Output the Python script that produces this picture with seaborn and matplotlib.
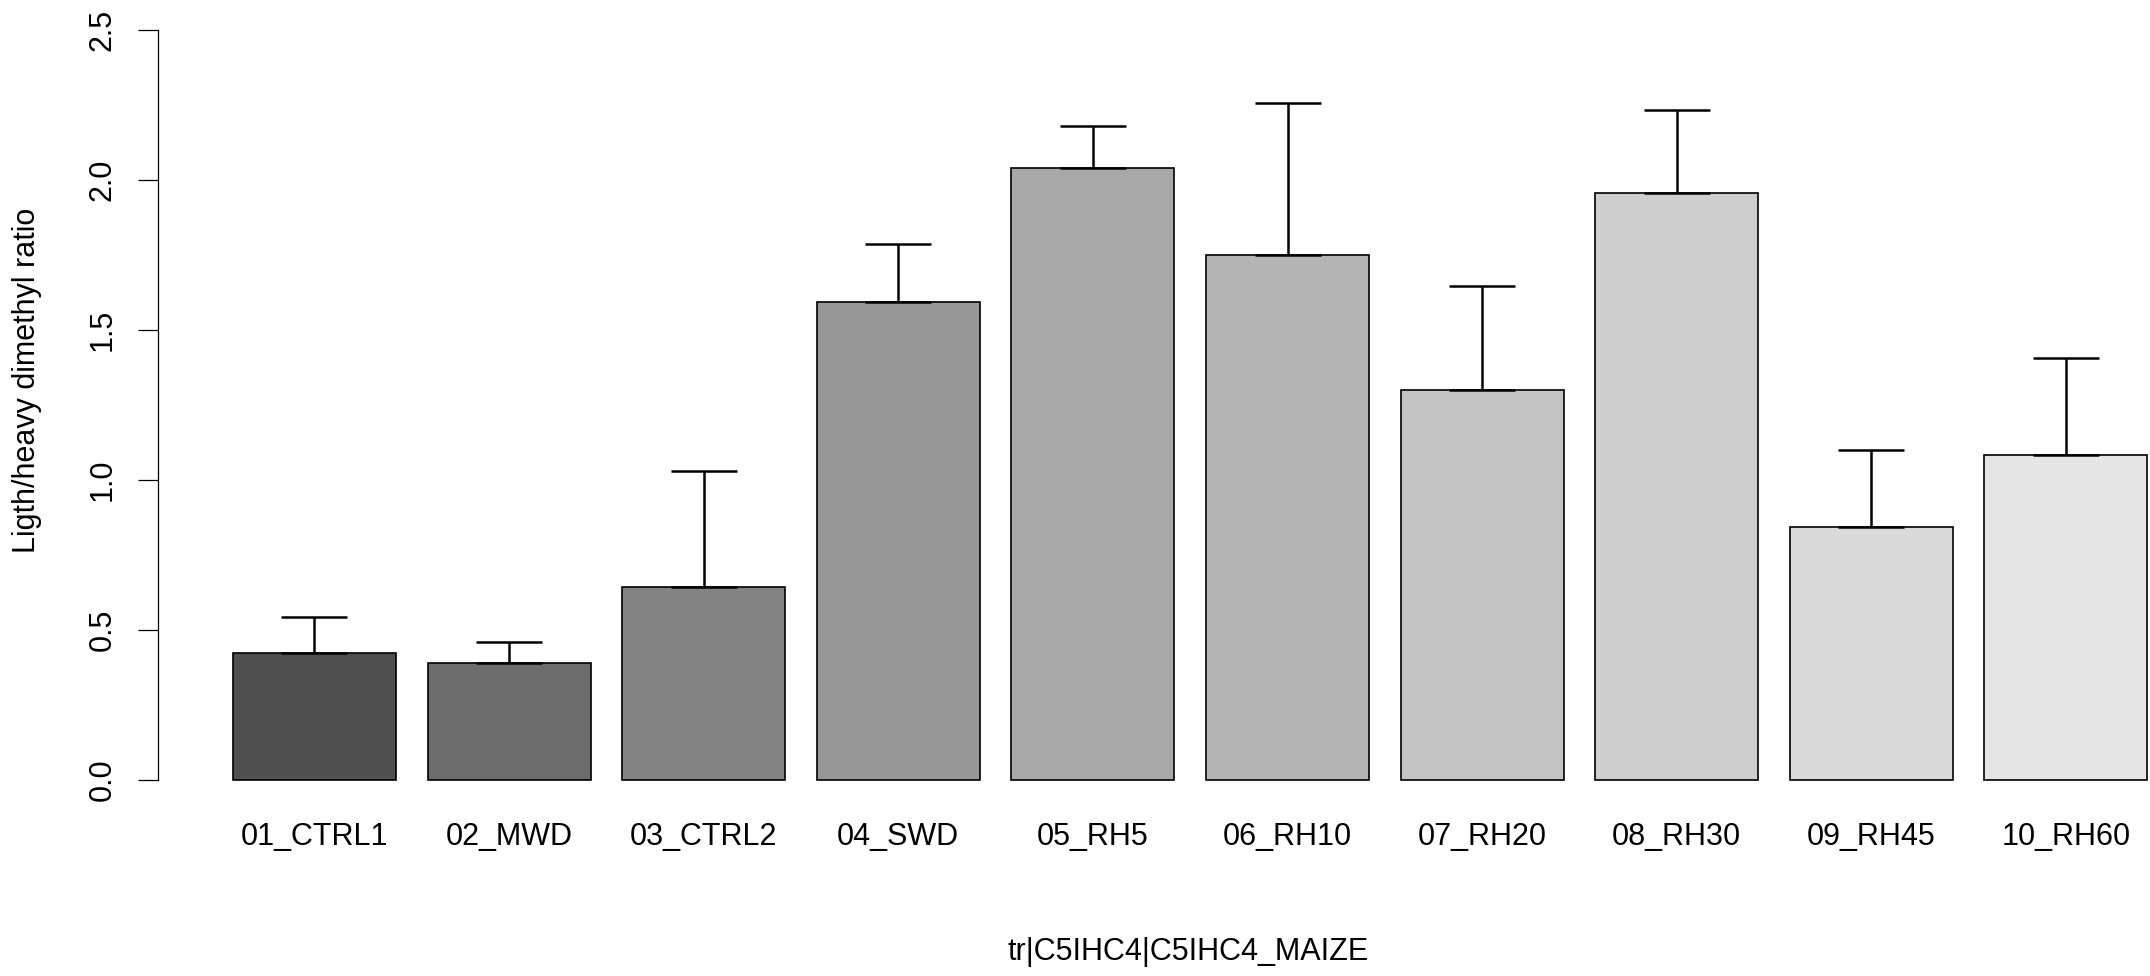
import pandas as pd
import matplotlib
matplotlib.use("Agg")
import matplotlib.pyplot as plt
import seaborn as sns

# valores (média e desvio)
amostras = ["01_CTRL1", "02_MWD", "03_CTRL2", "04_SWD", "05_RH5",
            "06_RH10", "07_RH20", "08_RH30", "09_RH45", "10_RH60"]
razao = [0.422, 0.389, 0.645, 1.595, 2.041, 1.750, 1.300, 1.956, 0.844, 1.084]
desvio = [0.122, 0.070, 0.384, 0.193, 0.140, 0.508, 0.348, 0.276, 0.255, 0.323]
cores = ["#4f4f4f", "#6c6c6c", "#838383", "#979797", "#a8a8a8",
         "#b4b4b4", "#c3c3c3", "#cecece", "#dadada", "#e5e5e5"]
yticks = [0.0, 0.5, 1.0, 1.5, 2.0, 2.5]

df = pd.DataFrame({"amostra": amostras, "razao": razao, "desvio": desvio})

sns.set_style("white", {"axes.edgecolor": "black", "text.color": "black",
                        "axes.labelcolor": "black", "xtick.color": "black",
                        "ytick.color": "black"})
plt.rcParams["font.family"] = ["Liberation Sans", "DejaVu Sans"]

W, H = 2150, 976
fig = plt.figure(figsize=(W / 100, H / 100), dpi=100)
ax = fig.add_axes([158 / W, (H - 810) / H, (W - 158) / W, 810 / H])

sns.barplot(data=df, x="amostra", y="razao", hue="amostra", palette=cores,
            legend=False, width=0.838, edgecolor="black", linewidth=1.2,
            saturation=1, errorbar=None, ax=ax)

# barras de erro só para cima
zeros = [0] * len(desvio)
ax.errorbar(range(len(amostras)), df["razao"], yerr=[zeros, df["desvio"]],
            fmt="none", ecolor="black", elinewidth=1.8, capsize=23.5,
            capthick=1.8, zorder=1)

ax.set_xlim(-0.804, 9.432)
ax.set_ylim(-0.1, 2.6)
ax.set_yticks(yticks)
ax.set_yticklabels([f"{v:.1f}" for v in yticks])

for s in ["top", "right", "bottom"]:
    ax.spines[s].set_visible(False)
ax.spines["left"].set_bounds(0, 2.5)
ax.spines["left"].set_linewidth(0.9)

ax.tick_params(axis="x", length=0, pad=8.7, labelsize=22, labelcolor="black")
ax.tick_params(axis="y", length=14.4, width=0.9, pad=14.5, labelsize=22,
               labelrotation=90, direction="out", left=True,
               color="black", labelcolor="black")
for t in ax.get_yticklabels():
    t.set_va("center")

ax.set_ylabel("Ligth/heavy dimethyl ratio", fontsize=22, color="black")
ax.yaxis.label.set_va("center")
ax.yaxis.set_label_coords((27 - 158) / (W - 158), (810 - 380) / 810)

ax.set_xlabel("tr|C5IHC4|C5IHC4_MAIZE", fontsize=22, color="black")
ax.xaxis.label.set_va("center")
ax.xaxis.set_label_coords((1188 - 158) / (W - 158), (810 - 952) / 810)

fig.savefig("out.png", dpi=100)
